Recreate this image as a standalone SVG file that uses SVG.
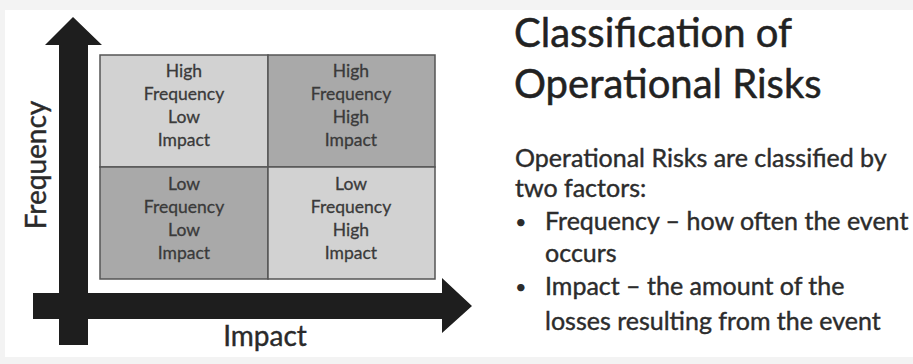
<svg xmlns="http://www.w3.org/2000/svg" width="913" height="364" viewBox="0 0 913 364">
<style>
text{font-family:Lato,"Open Sans","Liberation Sans",sans-serif}
.cell{stroke:#555;stroke-width:1.5}
.light{fill:#d2d2d2}
.dark{fill:#a9a9a9}
.ct{font-size:17.5px;fill:#3a3a3a;text-anchor:middle;stroke:#3a3a3a;stroke-width:0.3}
.axis{fill:#1e1e1e}
.axl{font-size:28px;fill:#2a2a2a;stroke:#2a2a2a;stroke-width:0.4}
.title{font-size:40px;fill:#222;stroke:#222;stroke-width:0.5}
.body{font-size:25px;fill:#2c2c2c;stroke:#2c2c2c;stroke-width:0.4}
.bul{font-size:20px;fill:#2c2c2c}
</style>
<rect width="913" height="364" fill="#f3f3f3"/>
<rect x="5" y="10" width="908" height="347" fill="#ffffff"/>
<g id="connectors">
<path class="axis" d="M59,345 V45 H45 L73,17 L102,45 H88 V345 Z"/>
<path class="axis" d="M33,293 H442 V278 L472,306 L442,333 V319 H33 Z"/>
</g>
<g id="cell-hf-li">
<rect class="cell light" x="100" y="55" width="168" height="112"/>
<text class="ct" x="184" y="77">High</text>
<text class="ct" x="184" y="100">Frequency</text>
<text class="ct" x="184" y="123">Low</text>
<text class="ct" x="184" y="146">Impact</text>
</g>
<g id="cell-hf-hi">
<rect class="cell dark" x="268" y="55" width="167" height="112"/>
<text class="ct" x="351" y="77">High</text>
<text class="ct" x="351" y="100">Frequency</text>
<text class="ct" x="351" y="123">High</text>
<text class="ct" x="351" y="146">Impact</text>
</g>
<g id="cell-lf-li">
<rect class="cell dark" x="100" y="167" width="168" height="112"/>
<text class="ct" x="184" y="190">Low</text>
<text class="ct" x="184" y="213">Frequency</text>
<text class="ct" x="184" y="236">Low</text>
<text class="ct" x="184" y="259">Impact</text>
</g>
<g id="cell-lf-hi">
<rect class="cell light" x="268" y="167" width="167" height="112"/>
<text class="ct" x="351" y="190">Low</text>
<text class="ct" x="351" y="213">Frequency</text>
<text class="ct" x="351" y="236">High</text>
<text class="ct" x="351" y="259">Impact</text>
</g>
<g id="label-frequency">
<text class="axl" transform="translate(46,165) rotate(-90)" text-anchor="middle">Frequency</text>
</g>
<g id="label-impact">
<text class="axl" x="265" y="346" text-anchor="middle">Impact</text>
</g>
<g id="title">
<text class="title" x="514" y="47">Classification of</text>
<text class="title" x="514" y="98">Operational Risks</text>
</g>
<g id="description">
<text class="body" x="515" y="167">Operational Risks are classified by</text>
<text class="body" x="515" y="197">two factors:</text>
<text class="bul" x="515" y="229">•</text>
<text class="body" x="545" y="230">Frequency – how often the event</text>
<text class="body" x="545" y="262">occurs</text>
<text class="bul" x="515" y="294">•</text>
<text class="body" x="545" y="295">Impact – the amount of the</text>
<text class="body" x="545" y="330">losses resulting from the event</text>
</g>
</svg>
